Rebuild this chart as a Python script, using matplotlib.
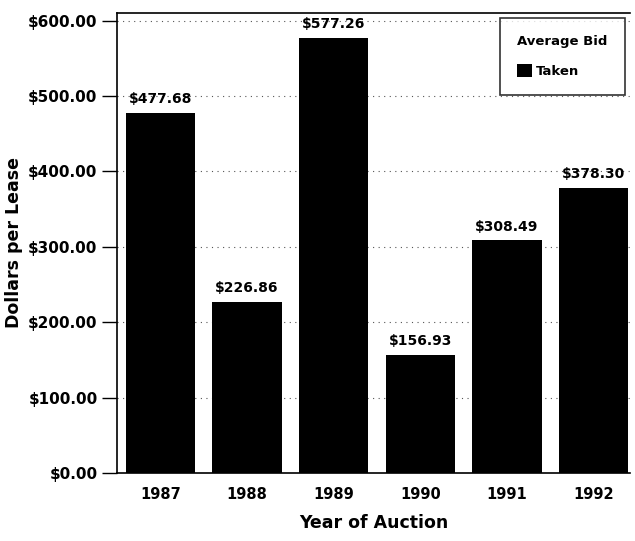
import matplotlib
matplotlib.use("Agg")
import matplotlib.pyplot as plt
from matplotlib.ticker import FuncFormatter

years = ["1987", "1988", "1989", "1990", "1991", "1992"]
avg_bid = [477.68, 226.86, 577.26, 156.93, 308.49, 378.30]
bar_labels = ["$477.68", "$226.86", "$577.26", "$156.93", "$308.49", "$378.30"]

plt.rcParams['font.family'] = ['DejaVu Sans']
plt.rcParams['font.weight'] = 'bold'

fig = plt.figure(figsize=(6.35, 5.41), dpi=100)
ax = fig.add_axes([117/635, 1-473/541, (630-117)/635, (473-13)/541])

x = list(range(len(years)))
bars = ax.bar(x, avg_bid, width=0.8, color="black", label="Taken", zorder=2)
for xi, v, lab in zip(x, avg_bid, bar_labels):
    ax.text(xi, v + 9, lab, ha="center", va="bottom", fontsize=10, fontweight="bold")

ax.set_xlim(-0.5, 5.42)
ax.set_ylim(0, 610)
ax.set_yticks([0, 100, 200, 300, 400, 500, 600])
ax.yaxis.set_major_formatter(FuncFormatter(lambda v, p: f"${v:,.2f}"))
ax.set_xticks(x)
ax.set_xticklabels(years)
ax.tick_params(axis="y", length=11, width=1, labelsize=11, direction="out", pad=3)
ax.tick_params(axis="x", length=0, labelsize=10.5, pad=10)
for lab in ax.get_xticklabels() + ax.get_yticklabels():
    lab.set_fontweight("bold")
ax.yaxis.grid(True, linestyle=(0, (1, 4)), color="#555555", linewidth=0.8, zorder=1)
for s in ax.spines.values():
    s.set_linewidth(1.2)
ax.spines["right"].set_visible(False)

ax.set_ylabel("Dollars per Lease", fontsize=12.5, fontweight="bold", labelpad=4)
ax.set_xlabel("Year of Auction", fontsize=12.5, fontweight="bold", labelpad=9)

leg = ax.legend(title="Average Bid", loc="upper right", fontsize=9.5, title_fontsize=9.5,
                frameon=True, fancybox=False, edgecolor="black", handlelength=1.1,
                handleheight=1.1, handletextpad=0.3, borderpad=1.3, labelspacing=1.2,
                borderaxespad=0, bbox_to_anchor=(0.99, 0.989))
leg.get_frame().set_linewidth(1.2)
leg._legend_box.align = "left"
leg.get_title().set_fontweight("bold")

fig.savefig("out.png", dpi=100)
